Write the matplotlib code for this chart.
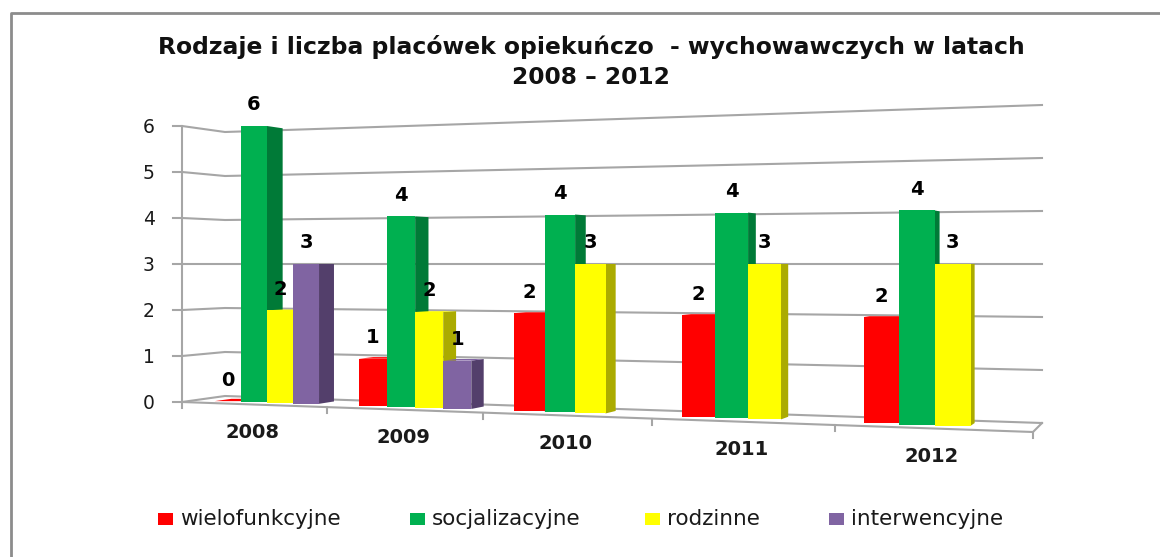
import numpy as np
import matplotlib
matplotlib.use('Agg')
import matplotlib.pyplot as plt

# --- Data ---
years = ['2008', '2009', '2010', '2011', '2012']
wielofunkcyjne = [0, 1, 2, 2, 2]
socjalizacyjne = [6, 4, 4, 4, 4]
rodzinne = [2, 2, 3, 3, 3]
interwencyjne = [3, 1, None, None, None]
grid_values = [0, 1, 2, 3, 4, 5, 6]
series_names = ['wielofunkcyjne', 'socjalizacyjne', 'rodzinne', 'interwencyjne']

colors = ['#FF0000', '#00B050', '#FFFF00', '#8064A2']
side_colors = ['#A80000', '#007A37', '#ABAB00', '#533F6B']
grid_color = '#A6A6A6'
frame_color = '#8C8C8C'
text_color = '#1A1A1A'

# --- Fake 3D geometry (Excel style perspective), in image pixels ---
W, H = 1160, 557
y_horizon = 264      # height of value 3, all scales meet there
x_vanish = 1209
depth_k = 0.0168
group_edges = [182, 327, 483, 652, 835, 1033]
bar_w = 0.18         # bar width, in group widths


def floor_y(x):
    return 402 + (x - 240) * 0.0342


def value_y(x, v):
    scale = (floor_y(x) - y_horizon) / 3
    return y_horizon + (3 - v) * scale


def cat_x(u):
    return np.interp(u, np.arange(len(group_edges)), group_edges)


def wall_y(scale, v):
    return y_horizon + (3 - v) * scale


plt.rcParams['font.family'] = ['DejaVu Sans']

fig, ax = plt.subplots(figsize=(W / 100, H / 100), dpi=100)
fig.subplots_adjust(0, 0, 1, 1)
ax.set_xlim(0, W)
ax.set_ylim(H, 0)
ax.axis('off')

# Outer frame of the pasted chart: only top and left are in the crop
ax.plot([10.5, 10.5, W], [H, 12.5, 12.5], color=frame_color, lw=2)

# Walls: gridlines bend at the corner of the chart box
for v in grid_values:
    ax.plot([173, 182, 225, 1042],
            [wall_y(46, v), wall_y(46, v), wall_y(44, v), wall_y(53, v)],
            color=grid_color, lw=1.5, zorder=1)
    ax.text(149, wall_y(46, v) + 1.5, str(v), ha='center', va='center', fontsize=13.5, color=text_color)

# Floor and axes
ax.plot([182, 182], [wall_y(46, 6), 408], color=grid_color, lw=1.5, zorder=1)
ax.plot([182, 1033, 1042], [402, 432, 423], color=grid_color, lw=1.5, zorder=1)
for x in group_edges[1:]:
    y0 = 402 + (x - 182) * 30 / 851
    ax.plot([x, x], [y0, y0 + 6], color=grid_color, lw=1.5, zorder=1)

# Bars, left to right so that each front covers the side of the previous one
all_series = [wielofunkcyjne, socjalizacyjne, rodzinne, interwencyjne]
for i, year in enumerate(years):
    start = i + 0.225 - 0.02 * i
    for j, values in enumerate(all_series):
        v = values[i]
        if v is None:
            continue
        x0 = cat_x(start + j * bar_w)
        x1 = cat_x(start + (j + 1) * bar_w)
        bottom = floor_y(x0)
        top = value_y(x0, v)
        d0 = depth_k * (x_vanish - x0)
        d1 = depth_k * (x_vanish - x1)
        back_top = top + (y_horizon - top) * depth_k
        z = 2 + j * 0.1
        if v > 0:
            ax.fill([x1, x1 + d1, x1 + d1, x1],
                    [top, back_top, bottom + (y_horizon - bottom) * depth_k, bottom],
                    color=side_colors[j], lw=0, zorder=z)
            ax.bar(x0, top - bottom, width=x1 - x0, bottom=bottom, align='edge',
                   color=colors[j], lw=0, zorder=z + 0.05)
        if v < 3:
            ax.fill([x0, x1, x1 + d1, x0 + d0], [top, top, back_top, back_top],
                    color=colors[j], lw=0, zorder=z + 0.02)
        ax.text((x0 + x1) / 2, top - 21, str(v), ha='center', va='center',
                fontsize=14, fontweight='bold', color='black', zorder=5)
    xc = (group_edges[i] + group_edges[i + 1]) / 2 - 2
    ax.text(xc, 402 + (xc - 182) * 30 / 851 + 28, year, ha='center', va='center',
            fontsize=14, fontweight='bold', color=text_color)

# Title
ax.text(591, 47, 'Rodzaje i liczba placówek opiekuńczo  - wychowawczych w latach',
        ha='center', va='center', fontsize=16.9, fontweight='bold', color='#111111')
ax.text(591, 78, '2008 – 2012', ha='center', va='center', fontsize=16.8,
        fontweight='bold', color='#111111')

# Legend
legend_x = [158, 410, 645, 829]
for x, name, c in zip(legend_x, series_names, colors):
    ax.fill([x, x + 15, x + 15, x], [513, 513, 525, 525], color=c, lw=0)
    ax.text(x + 22, 519, name, ha='left', va='center', fontsize=15.5, color=text_color)

fig.savefig('out.png', dpi=100)
